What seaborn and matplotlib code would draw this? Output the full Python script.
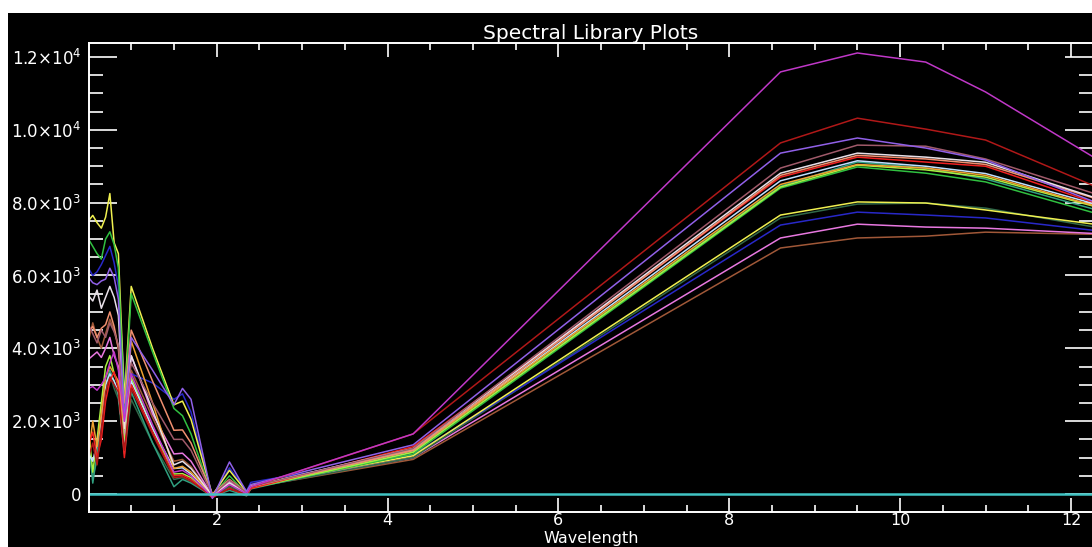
import numpy as np
import pandas as pd
import matplotlib
matplotlib.use("Agg")
import matplotlib.pyplot as plt
from matplotlib.patches import Rectangle
from matplotlib.ticker import MultipleLocator, FixedLocator
import seaborn as sns

# ---------------- data ----------------
wavelength = [0.50, 0.55, 0.60, 0.65, 0.70, 0.75, 0.80, 0.85, 0.92, 1.00,
              1.25, 1.50, 1.60, 1.70, 1.95, 2.15, 2.35, 2.40,
              4.30, 8.60, 9.50, 10.30, 11.00, 12.30]

yellow = [7500, 7650, 7450, 7300, 7600, 8250, 6900, 6600, 2600, 5700,
          4000, 2450, 2550, 2050, -30, 650, 60, 230,
          1050, 7660, 8020, 7990, 7800, 7400]
green = [7000, 6800, 6600, 6450, 7000, 7200, 6850, 6200, 2300, 5500,
         3900, 2350, 2150, 1650, -60, 500, 10, 170,
         1100, 8400, 8980, 8810, 8570, 7700]
blue = [6200, 6000, 6100, 6300, 6550, 6800, 6350, 5700, 3000, 3300,
        3050, 2600, 2750, 2250, -100, 720, 80, 320,
        1080, 7385, 7740, 7660, 7580, 7230]
lavender = [5950, 5800, 5750, 5850, 5900, 6200, 5950, 5350, 2000, 4300,
            3400, 2450, 2900, 2600, -120, 880, 60, 260,
            1350, 9360, 9775, 9500, 9170, 8000]
white = [5450, 5300, 5600, 5100, 5400, 5700, 5400, 4900, 1800, 3800,
         2300, 800, 900, 700, -40, 300, 20, 210,
         1250, 8810, 9360, 9250, 9110, 8120]
salmon = [4450, 4600, 4300, 4550, 4650, 5000, 4600, 4000, 2500, 4500,
          3100, 1750, 1760, 1400, 0, 400, 50, 200,
          1200, 8750, 9300, 9200, 9050, 8100]
rosy = [4650, 4400, 4150, 4500, 4300, 4700, 4450, 4100, 2200, 3600,
        2500, 1500, 1500, 1200, -30, 380, 40, 200,
        1250, 8950, 9580, 9550, 9200, 8230]
pink = [3700, 3800, 3900, 3750, 4000, 4300, 3800, 3500, 1500, 3800,
        2200, 1100, 1120, 900, -50, 350, 40, 200,
        1000, 7030, 7410, 7330, 7300, 7150]
magenta = [2900, 2950, 2850, 3000, 3200, 3600, 3900, 3400, 2000, 3300,
           1900, 600, 650, 500, -80, 260, 10, 200,
           1650, 11590, 12110, 11860, 11040, 9200]
red = [1350, 1700, 1000, 1500, 2550, 3100, 3350, 2900, 1000, 3000,
       1700, 500, 520, 400, -100, 160, -40, 150,
       1300, 8700, 9250, 9115, 9000, 7980]
dark_red = [1000, 1400, 800, 1800, 2800, 3200, 3000, 2800, 1200, 2900,
            1650, 450, 480, 350, -60, 140, 0, 190,
            1650, 9640, 10320, 10020, 9720, 8430]
lime = [1800, 600, 1500, 2500, 3500, 3800, 3300, 3000, 1400, 3200,
        1800, 550, 560, 450, -70, 300, -20, 160,
        1150, 8430, 9030, 8900, 8700, 7880]
teal_green = [1600, 300, 1100, 2000, 3000, 3400, 3100, 2700, 1300, 2800,
              1400, 200, 400, 300, -60, 100, -50, 140,
              1150, 8450, 9115, 8950, 8650, 7800]
dark_green = [1200, 500, 900, 1900, 2800, 3300, 2900, 2600, 1100, 2600,
              1400, 400, 450, 350, -60, 200, 20, 170,
              1000, 7580, 7960, 7990, 7850, 7320]
brown = [4200, 4700, 4300, 4000, 4400, 4800, 4500, 4000, 1300, 3400,
         2100, 900, 950, 750, -40, 250, 30, 180,
         950, 6755, 7030, 7080, 7190, 7130]
orange = [1100, 2000, 1300, 2200, 3200, 3500, 3300, 3100, 1800, 4200,
          2500, 700, 760, 600, -30, 280, 30, 200,
          1200, 8500, 9050, 8950, 8750, 7900]
light_blue = [1100, 900, 1400, 2000, 3000, 3300, 3100, 2800, 1200, 3100,
              1800, 700, 720, 550, -40, 300, 20, 200,
              1200, 8600, 9150, 9000, 8800, 7950]
zero = [0] * len(wavelength)

series = {
    "brown": brown, "pink": pink, "dark_green": dark_green, "blue": blue,
    "yellow": yellow, "teal_green": teal_green, "green": green, "lime": lime,
    "light_blue": light_blue, "orange": orange, "red": red, "salmon": salmon,
    "white": white, "rosy": rosy, "lavender": lavender, "dark_red": dark_red,
    "magenta": magenta, "zero": zero,
}
colors = {
    "yellow": "#f0f050", "green": "#30c040", "blue": "#2828c8",
    "lavender": "#9060e8", "white": "#e8e0e8", "salmon": "#f09070",
    "rosy": "#a05a6a", "pink": "#e878e0", "magenta": "#c038c8",
    "red": "#f02020", "dark_red": "#b01818", "lime": "#a8f040",
    "teal_green": "#30a080", "dark_green": "#306848", "brown": "#a05838",
    "orange": "#f0a030", "light_blue": "#c0e0ff", "zero": "#40c4c4",
}

y_ticks = [0, 2000, 4000, 6000, 8000, 10000, 12000]
y_labels = ["0", "2.0×10$^3$", "4.0×10$^3$", "6.0×10$^3$", "8.0×10$^3$",
            "1.0×10$^4$", "1.2×10$^4$"]
x_ticks = [2, 4, 6, 8, 10, 12]
x_labels = ["2", "4", "6", "8", "10", "12"]

rows = []
for name, vals in series.items():
    for w, v in zip(wavelength, vals):
        rows.append((name, w, v))
df = pd.DataFrame(rows, columns=["spectrum", "wavelength", "value"])

# ---------------- figure ----------------
W, H = 1092, 547
fig = plt.figure(figsize=(W / 100, H / 100), dpi=100, facecolor="white")
fig.patches.append(Rectangle((8 / W, 0), 1, (H - 13) / H, transform=fig.transFigure,
                             facecolor="black", edgecolor="none", zorder=-10))

left, right, top, bottom = 88.5, 1093.0, 43.0, 512.0
ax = fig.add_axes([left / W, (H - bottom) / H, (right - left) / W, (bottom - top) / H])
ax.set_facecolor("black")

sns.lineplot(data=df[df.spectrum != "zero"], x="wavelength", y="value", hue="spectrum",
             hue_order=[k for k in series if k != "zero"], palette=colors,
             estimator=None, sort=False, legend=False, linewidth=1.1, ax=ax)
sns.lineplot(data=df[df.spectrum == "zero"], x="wavelength", y="value",
             color=colors["zero"], estimator=None, sort=False, legend=False,
             linewidth=1.8, ax=ax)

ax.set_xlim(0.5, 12.258)
ax.set_ylim(-494, 12384)

for s in ax.spines.values():
    s.set_color("white")
    s.set_linewidth(1.4)

ax.xaxis.set_major_locator(FixedLocator(x_ticks))
ax.set_xticklabels(x_labels)
ax.xaxis.set_minor_locator(MultipleLocator(0.5))
ax.yaxis.set_major_locator(FixedLocator(y_ticks))
ax.set_yticklabels(y_labels)
ax.yaxis.set_minor_locator(MultipleLocator(500))

ax.tick_params(axis="x", which="major", direction="in", length=10, width=1.2,
               color="white", top=True, bottom=True, labelcolor="white",
               labelsize=11.5, pad=1)
ax.tick_params(axis="x", which="minor", direction="in", length=5, width=1.2,
               color="white", top=True, bottom=True)
ax.tick_params(axis="y", which="major", direction="in", length=20, width=1.2,
               color="white", left=True, right=True, labelcolor="white",
               labelsize=12, pad=5)
ax.tick_params(axis="y", which="minor", direction="in", length=10, width=1.2,
               color="white", left=True, right=True)

ax.set_xlabel("")
ax.set_ylabel("")
fig.text((left + right) / 2 / W, 1 - 546 / H, "Wavelength", color="white",
         fontsize=11.5, ha="center", va="bottom")
ax.set_title("Spectral Library Plots", color="white", fontsize=14.5, pad=3)

fig.savefig("out.png", dpi=100, facecolor=fig.get_facecolor())
